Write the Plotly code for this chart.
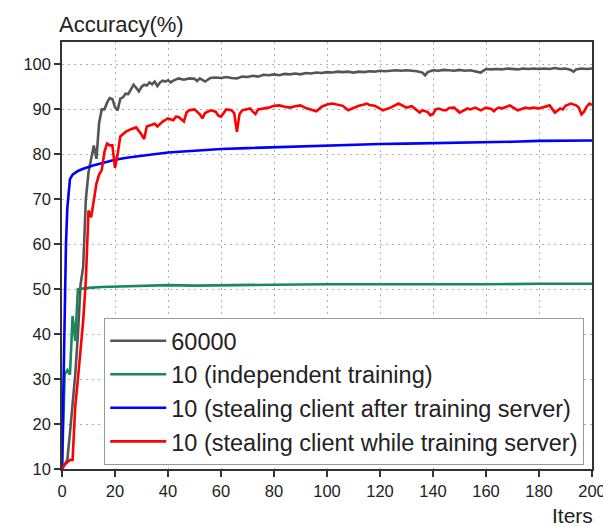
import plotly.graph_objects as go

# ---------------- data ----------------
gray_x = [0, 1, 2, 3, 4, 5, 6, 7, 8, 9, 10, 11, 12, 13, 14, 15, 16, 17, 18, 19, 20,
          21, 22, 23, 24, 25, 26, 27, 28, 29, 30, 31, 32, 33, 34, 35, 36, 37, 38, 39, 40,
          41, 42, 44, 46, 48, 50, 51, 52, 54, 56, 58, 60, 62, 64, 66, 68, 70, 72, 74, 76,
          78, 80, 82, 84, 86, 88, 90, 92, 94, 96, 98, 100, 102, 104, 106, 108, 110, 112,
          114, 116, 118, 120, 122, 124, 126, 128, 130, 132, 134, 136, 137, 138, 140, 142,
          144, 146, 148, 150, 152, 154, 156, 158, 160, 162, 164, 166, 168, 170, 172, 174,
          176, 178, 180, 182, 184, 186, 188, 190, 192, 193, 194, 196, 198, 200]
gray_y = [10, 11, 12, 18, 25, 31, 40, 51, 55, 70, 76, 79, 82, 79, 87, 90, 90, 91.5, 92.5, 92.3, 90.5,
          89.8, 92.4, 92.7, 93.5, 93.4, 94.4, 95.5, 94.8, 94.0, 95.0, 95.5, 95.3, 96.0, 95.6, 96.2, 95.2, 96.0, 96.4, 96.2, 96.5,
          96.0, 96.4, 96.9, 96.6, 96.9, 96.8, 96.3, 96.9, 96.2, 97.0, 97.1, 97.0, 97.2, 97.0, 96.9, 97.3, 97.2, 97.5, 97.3, 97.7,
          97.6, 97.8, 97.6, 97.9, 97.8, 98.0, 97.8, 98.1, 98.0, 98.2, 98.1, 98.3, 98.2, 98.4, 98.3, 98.4, 98.2, 98.4,
          98.3, 98.5, 98.4, 98.6, 98.5, 98.6, 98.7, 98.6, 98.7, 98.6, 98.5, 98.2, 97.6, 98.3, 98.7, 98.6,
          98.8, 98.7, 98.6, 98.8, 98.6, 98.7, 98.5, 98.2, 99.0, 98.9, 99.0, 98.9, 99.1, 99.0, 98.9, 99.1,
          99.0, 99.1, 99.0, 99.1, 99.0, 99.2, 99.0, 99.1, 98.8, 98.4, 98.9, 99.1, 99.0, 99.1]

green_x = [0, 1, 2, 3, 4, 5, 6, 7, 8, 10, 15, 20, 30, 40, 50, 60, 80, 100, 120, 140, 160, 180, 200]
green_y = [10, 31, 32, 31, 44, 38.5, 50, 50.1, 50.2, 50.3, 50.5, 50.6, 50.7, 50.9, 50.8, 50.9,
           51.0, 51.1, 51.1, 51.0, 51.1, 51.2, 51.2]

blue_x = [0, 0.5, 1, 1.5, 2, 2.5, 3, 4, 5, 6, 8, 10, 12, 15, 18, 20, 25, 30, 35, 40, 50, 60, 70,
          80, 90, 100, 110, 120, 130, 140, 150, 160, 170, 180, 190, 200]
blue_y = [10, 30, 48, 60, 68, 72.5, 74.5, 75.5, 76.0, 76.3, 76.8, 77.2, 77.6, 78.0, 78.5, 78.8,
          79.3, 79.7, 80.1, 80.4, 80.8, 81.2, 81.4, 81.6, 81.8, 82.0, 82.1, 82.3, 82.4, 82.5,
          82.5, 82.6, 82.8, 83.0, 83.1, 83.1]

red_x = [0, 1, 2, 3, 4, 5, 6, 7, 8, 9, 10, 11, 12, 13, 14, 15, 16, 17, 18, 19, 20, 21, 22, 23, 24,
         26, 28, 30, 31, 32, 34, 35, 36, 38, 40, 42, 43, 44, 46, 47, 48, 50, 52, 53, 54, 56, 58, 59,
         60, 62, 64, 65, 66, 67, 68, 70, 71, 72, 73, 74, 76, 78, 80, 82, 84, 86, 88, 90, 92, 94, 96,
         98, 99, 100, 102, 104, 106, 108, 110, 112, 114, 115, 116, 118, 120, 121, 122, 124, 126, 127,
         128, 130, 132, 134, 135, 136, 138, 139, 140, 141, 142, 144, 145, 146, 148, 150, 152, 153,
         154, 156, 158, 160, 162, 163, 164, 165, 166, 168, 169, 170, 172, 174, 175, 176, 178, 180,
         182, 184, 186, 187, 188, 189, 190, 192, 194, 195, 196, 197, 198, 199, 200]
red_y = [10, 11, 11.5, 12, 12, 24, 30, 36, 43, 52, 67.5, 66, 70, 73.5, 75.5, 76.5, 80.5, 82.4, 82, 82, 77, 80, 84, 84.5, 85,
         85.6, 86, 84.4, 83.4, 86.2, 86.5, 86.8, 86.2, 87.3, 88, 87.6, 88.4, 88.3, 87.3, 89.3, 89.8, 90, 88.9, 88, 89.2, 89.8, 89.5, 88.6,
         88.4, 90, 89.8, 89.2, 85, 89, 89.8, 90, 90.2, 89.5, 89, 90, 90.2, 90.4, 90.8, 90.9, 90.6, 90.4, 90.7, 90.9, 90.3, 90, 89.6,
         90.6, 90.9, 91.1, 91.3, 91, 90.8, 89.8, 90.3, 90.8, 91.1, 91.3, 91, 90.8, 90.2, 89.8, 90, 90.4, 91, 91.3,
         91, 90.4, 90.7, 89.8, 89.3, 89.8, 89.4, 88.7, 89, 90, 90.2, 89.8, 89.8, 90.3, 90.4, 89.3, 89.8, 90.2,
         90, 90.4, 89.8, 90.4, 90.1, 89.6, 90.2, 90.4, 90.2, 90.7, 90.9, 90.5, 89.8, 90.2, 90.4, 90.2, 90.4, 90.2,
         90.5, 90.9, 89.3, 89.8, 90.2, 90, 90.8, 91.3, 90.9, 90.4, 88.9, 89.5, 90.6, 91.3, 91]

names = ["60000", "10 (independent training)",
         "10 (stealing client after training server)",
         "10 (stealing client while training server)"]
colors = ["#555555", "#168a5c", "#0000ff", "#ff0000"]

x_ticks = [0, 20, 40, 60, 80, 100, 120, 140, 160, 180, 200]
y_ticks = [10, 20, 30, 40, 50, 60, 70, 80, 90, 100]

FONT = "Liberation Sans, Arial, sans-serif"

fig = go.Figure()
for xs, ys, nm, c in zip([gray_x, green_x, blue_x, red_x], [gray_y, green_y, blue_y, red_y], names, colors):
    fig.add_trace(go.Scatter(x=xs, y=ys, mode="lines", name=nm,
                             line=dict(color=c, width=2.6)))

axis_common = dict(
    showline=True, linecolor="#333333", linewidth=1.5, mirror=True,
    ticks="outside", ticklen=6, tickwidth=1.5, tickcolor="#333333",
    showgrid=True, gridcolor="#b0b0b0", gridwidth=1.3, griddash="2px,4px",
    zeroline=False, tickfont=dict(family=FONT, size=16.5, color="#222222"),
    ticklabeloverflow="allow", automargin=False,
)

fig.update_xaxes(range=[0, 200], tickvals=x_ticks, **axis_common)
fig.update_yaxes(range=[10, 105], tickvals=y_ticks, **axis_common)

fig.update_layout(
    width=603, height=526,
    margin=dict(l=62, r=11, t=42, b=57),
    paper_bgcolor="white", plot_bgcolor="white",
    font=dict(family=FONT, color="#222222"),
    showlegend=True,
    legend=dict(
        x=0.985, xanchor="right", y=0.01, yanchor="bottom",
        bgcolor="white", bordercolor="#999999", borderwidth=1.2,
        font=dict(family=FONT, size=23.5, color="#222222"),
        tracegroupgap=0, itemwidth=56,
    ),
    annotations=[
        dict(text="Accuracy(%)", xref="paper", yref="paper", x=-0.0094, y=1.042,
             xanchor="left", yanchor="middle", showarrow=False,
             font=dict(family=FONT, size=22, color="#222222")),
        dict(text="Iters", xref="paper", yref="paper", x=1.0057, y=-0.108,
             xanchor="right", yanchor="middle", showarrow=False,
             font=dict(family=FONT, size=21, color="#222222")),
    ],
)

fig.write_html("out.html")
